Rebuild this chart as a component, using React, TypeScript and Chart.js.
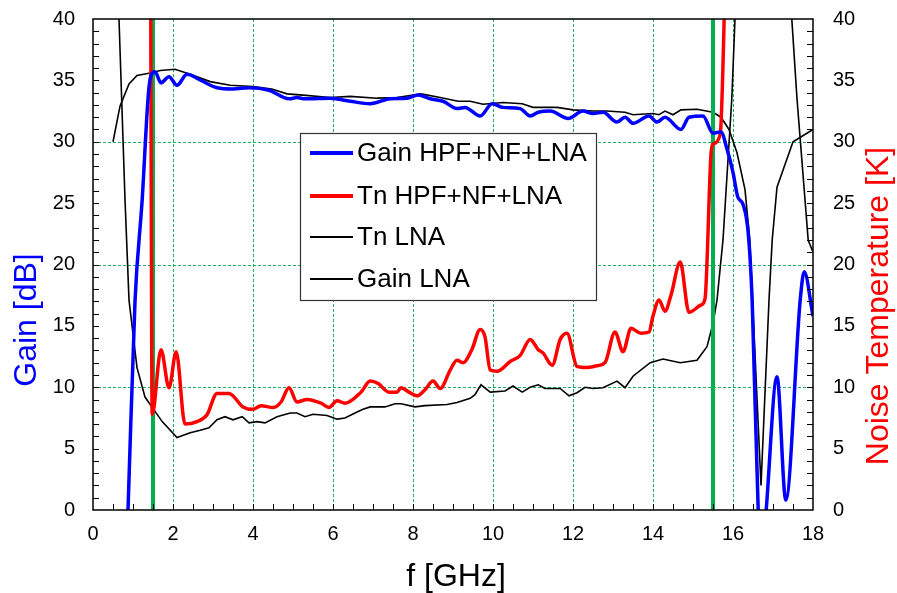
import React, { useEffect, useRef } from "react";
import { Chart, registerables } from "chart.js";

Chart.register(...registerables);

const FONT = "'Liberation Sans', Arial, sans-serif";

// Gain HPF+NF+LNA (left axis, dB)
const gainHpfF = [0.84, 0.875, 1.05, 1.23, 1.38, 1.45, 1.55, 1.7, 1.9, 2.1, 2.35, 2.7, 3.1, 3.5, 3.9, 4.4, 4.9, 5.1, 5.3, 5.93, 6.43, 6.93, 7.43, 7.85, 8.13, 8.43, 8.75, 9.1, 9.3, 9.68, 9.98, 10.25, 10.68, 10.93, 11.13, 11.43, 11.88, 12.25, 12.5, 12.75, 13.1, 13.3, 13.5, 13.9, 14.1, 14.3, 14.7, 14.9, 15.25, 15.5, 15.7, 15.85, 16.0, 16.12, 16.25, 16.38, 16.48, 16.63, 16.73, 16.83, 17.1, 17.32, 17.68, 17.78, 18.0];
const gainHpfV = [-3, 0, 17, 25.3, 33.7, 35.4, 35.7, 34.8, 35.3, 34.6, 35.5, 35.0, 34.4, 34.3, 34.4, 34.2, 33.5, 33.6, 33.5, 33.55, 33.3, 33.1, 33.5, 33.55, 33.8, 33.5, 33.3, 32.7, 32.8, 32.1, 33.1, 32.8, 32.7, 32.1, 32.4, 32.5, 31.9, 32.5, 32.3, 32.4, 31.6, 32.0, 31.5, 32.1, 31.6, 32.0, 31.0, 32.0, 32.1, 30.7, 30.8, 29.4, 27.5, 25.5, 24.9, 22.6, 17.0, 0, -4, 0, 10.85, 0.8, 17.1, 19.4, 15.8];

// Tn HPF+NF+LNA (right axis, K)
const tnHpfF = [1.44, 1.48, 1.7, 1.9, 2.08, 2.3, 2.6, 2.85, 3.1, 3.4, 3.75, 4.0, 4.2, 4.5, 4.7, 4.9, 5.1, 5.35, 5.7, 5.9, 6.1, 6.3, 6.7, 6.93, 7.13, 7.4, 7.6, 7.7, 7.9, 8.1, 8.3, 8.5, 8.68, 8.93, 9.1, 9.25, 9.47, 9.68, 9.8, 9.93, 10.1, 10.43, 10.68, 10.93, 11.13, 11.25, 11.48, 11.68, 11.85, 12.1, 12.35, 12.6, 12.8, 13.05, 13.25, 13.45, 13.7, 13.9, 14.0, 14.15, 14.3, 14.45, 14.68, 14.9, 15.2, 15.3, 15.45, 15.5, 15.68, 15.82];
const tnHpfV = [45, 7.8, 13.06, 9.96, 12.9, 7.0, 7.2, 7.76, 9.5, 9.5, 8.4, 8.2, 8.5, 8.35, 8.8, 9.96, 8.8, 9.0, 8.7, 8.35, 8.9, 8.7, 9.6, 10.5, 10.3, 9.6, 9.6, 9.96, 9.6, 9.3, 9.8, 10.5, 9.9, 11.4, 12.2, 12.0, 13.06, 14.7, 14.1, 11.4, 11.3, 12.1, 12.6, 13.9, 13.06, 12.8, 11.8, 13.9, 14.4, 11.7, 11.6, 11.75, 12.0, 14.5, 12.9, 14.8, 14.4, 14.5, 15.8, 17.1, 16.2, 17.5, 20.2, 16.1, 16.7, 17.2, 29.0, 29.8, 30.6, 45];

// Tn LNA (right axis, K)
const tnLnaF = [0.6, 0.65, 0.8, 0.9, 1.1, 1.3, 1.73, 2.1, 2.43, 2.68, 2.9, 3.1, 3.3, 3.5, 3.73, 3.9, 4.1, 4.3, 4.6, 4.93, 5.1, 5.3, 5.5, 5.85, 6.1, 6.3, 6.55, 6.75, 6.93, 7.3, 7.55, 7.7, 8.05, 8.3, 8.85, 9.1, 9.43, 9.55, 9.7, 9.93, 10.3, 10.5, 10.73, 10.93, 11.13, 11.3, 11.68, 11.9, 12.1, 12.3, 12.5, 12.75, 13.1, 13.3, 13.5, 13.93, 14.25, 14.68, 15.1, 15.35, 15.5, 15.6, 15.75, 15.97, 16.05, 16.1, 17.4, 17.47, 17.6, 17.88, 18.0];
const tnLnaV = [45, 40, 25.3, 17.1, 11.6, 9.2, 7.2, 5.9, 6.3, 6.5, 6.7, 7.35, 7.6, 7.35, 7.6, 7.1, 7.2, 7.1, 7.6, 7.9, 7.9, 7.6, 7.8, 7.7, 7.4, 7.5, 7.9, 8.2, 8.4, 8.4, 8.65, 8.65, 8.4, 8.5, 8.6, 8.75, 9.1, 9.4, 10.2, 9.6, 9.7, 10.1, 9.6, 10.0, 10.2, 9.9, 9.9, 9.3, 9.55, 10.0, 9.9, 9.96, 10.5, 9.96, 10.9, 12.0, 12.3, 12.0, 12.2, 13.3, 15.2, 17.1, 22.0, 33.5, 40, 45, 45, 40, 33.5, 22.0, 21.0];

// Gain LNA (left axis, dB)
const gainLnaF = [0.5, 0.675, 0.9, 1.1, 1.43, 1.68, 2.05, 2.43, 2.93, 3.43, 4.0, 4.47, 4.85, 5.25, 5.93, 6.43, 7.1, 7.6, 8.2, 8.68, 9.13, 9.43, 9.75, 10.25, 10.73, 11.0, 11.6, 12.0, 12.5, 12.85, 13.3, 13.5, 14.0, 14.15, 14.3, 14.5, 14.7, 15.1, 15.5, 15.7, 15.9, 16.1, 16.3, 16.42, 16.7, 16.9, 16.98, 17.1, 17.5, 18.0];
const gainLnaV = [30.0, 32.9, 34.7, 35.4, 35.6, 35.8, 35.9, 35.5, 34.9, 34.6, 34.5, 34.3, 33.9, 33.8, 33.6, 33.7, 33.55, 33.6, 33.9, 33.6, 33.3, 33.3, 33.06, 33.2, 33.1, 32.8, 32.8, 32.6, 32.5, 32.5, 32.4, 32.2, 32.3, 32.2, 32.5, 32.2, 32.6, 32.65, 32.4, 32.0, 31.0, 29.1, 26.1, 22.0, 2.0, 17.1, 22.0, 26.3, 30.0, 31.0];

// band edge markers (GHz)
const bandEdges = [1.5, 15.5];

// grid positions
const xGrid = [2, 4, 6, 8, 10, 12, 14, 16];
const yGrid = [10, 20, 30];

const seriesLabels = ["Gain HPF+NF+LNA", "Tn HPF+NF+LNA", "Tn LNA", "Gain LNA"];
const xTitle = "f [GHz]";
const yLeftTitle = "Gain [dB]";
const yRightTitle = "Noise Temperature [K]";

const pts = (xs: number[], ys: number[]) => xs.map((x, i) => ({ x, y: ys[i] }));

const GRID = "rgb(30,175,95)";

const decor = {
  id: "decor",
  beforeDatasetsDraw(chart: any) {
    const { ctx, chartArea: a, scales } = chart;
    ctx.save();
    ctx.strokeStyle = GRID;
    ctx.lineWidth = 1;
    ctx.setLineDash([3, 2]);
    ctx.beginPath();
    xGrid.forEach((v) => {
      const px = Math.round(scales.x.getPixelForValue(v)) + 0.5;
      ctx.moveTo(px, a.top);
      ctx.lineTo(px, a.bottom);
    });
    yGrid.forEach((v) => {
      const py = Math.round(scales.y.getPixelForValue(v)) + 0.5;
      ctx.moveTo(a.left, py);
      ctx.lineTo(a.right, py);
    });
    ctx.stroke();
    ctx.restore();
  },
  afterDatasetsDraw(chart: any) {
    const { ctx, chartArea: a, scales } = chart;
    const xs = scales.x;
    const yl = scales.y;
    ctx.save();
    ctx.strokeStyle = "#000";
    ctx.lineWidth = 1;
    ctx.beginPath();
    for (let v = 0.5; v < 18; v += 0.5) {
      const px = Math.round(xs.getPixelForValue(v)) + 0.5;
      ctx.moveTo(px, a.bottom);
      ctx.lineTo(px, a.bottom - 6);
    }
    for (let v = 1; v < 40; v++) {
      const py = Math.round(yl.getPixelForValue(v)) + 0.5;
      ctx.moveTo(a.left, py);
      ctx.lineTo(a.left + 6, py);
      ctx.moveTo(a.right, py);
      ctx.lineTo(a.right - 6, py);
    }
    ctx.stroke();
    ctx.lineWidth = 1.5;
    ctx.strokeRect(a.left, a.top, a.right - a.left, a.bottom - a.top);

    // legend box
    const bx = 300, by = 133, bw = 296, bh = 167;
    ctx.fillStyle = "#fff";
    ctx.fillRect(bx, by, bw, bh);
    ctx.strokeStyle = "#333";
    ctx.lineWidth = 1.2;
    ctx.strokeRect(bx + 0.5, by + 0.5, bw, bh);
    const rows = [153, 196, 237, 279];
    ctx.font = `26px ${FONT}`;
    ctx.textBaseline = "middle";
    ctx.textAlign = "left";
    seriesLabels.forEach((lab, i) => {
      const ds = chart.data.datasets[i];
      ctx.strokeStyle = ds.borderColor;
      ctx.lineWidth = ds.legendWidth;
      ctx.beginPath();
      ctx.moveTo(310, rows[i]);
      ctx.lineTo(353, rows[i]);
      ctx.stroke();
      ctx.fillStyle = "#000";
      ctx.fillText(lab, 357, rows[i] + 1);
    });
    ctx.restore();
  },
  afterDraw(chart: any) {
    const { ctx } = chart;
    ctx.save();
    ctx.font = `32px ${FONT}`;
    ctx.textAlign = "center";
    ctx.textBaseline = "middle";
    ctx.fillStyle = "#0000ff";
    ctx.save();
    ctx.translate(27, 320);
    ctx.rotate(-Math.PI / 2);
    ctx.fillText(yLeftTitle, 0, 0);
    ctx.restore();
    ctx.fillStyle = "#ff0000";
    ctx.save();
    ctx.translate(879, 306);
    ctx.rotate(-Math.PI / 2);
    ctx.fillText(yRightTitle, 0, 0);
    ctx.restore();
    ctx.fillStyle = "#000";
    ctx.fillText(xTitle, 456, 577);
    ctx.restore();
  },
};

export default function App() {
  const ref = useRef<HTMLCanvasElement>(null);
  useEffect(() => {
    if (!ref.current) return;
    const tickFont = { family: FONT, size: 20 };
    const chart = new Chart(ref.current, {
      type: "line",
      data: {
        datasets: [
          {
            label: seriesLabels[0],
            data: pts(gainHpfF, gainHpfV),
            yAxisID: "y",
            borderColor: "#0000ff",
            borderWidth: 3.5,
            legendWidth: 4,
            pointRadius: 0,
            cubicInterpolationMode: "monotone",
            order: 0,
          } as any,
          {
            label: seriesLabels[1],
            data: pts(tnHpfF, tnHpfV),
            yAxisID: "y2",
            borderColor: "#ff0000",
            borderWidth: 3.5,
            legendWidth: 4,
            pointRadius: 0,
            cubicInterpolationMode: "monotone",
            order: 1,
          } as any,
          {
            label: seriesLabels[2],
            data: pts(tnLnaF, tnLnaV),
            yAxisID: "y2",
            borderColor: "#000000",
            borderWidth: 1.6,
            legendWidth: 2,
            pointRadius: 0,
            tension: 0,
            order: 3,
          } as any,
          {
            label: seriesLabels[3],
            data: pts(gainLnaF, gainLnaV),
            yAxisID: "y",
            borderColor: "#000000",
            borderWidth: 1.6,
            legendWidth: 2,
            pointRadius: 0,
            tension: 0,
            order: 4,
          } as any,
          ...bandEdges.map((m) => ({
            label: "edge",
            data: [
              { x: m, y: 0 },
              { x: m, y: 40 },
            ],
            yAxisID: "y",
            borderColor: "#00b050",
            borderWidth: 4,
            pointRadius: 0,
            order: 2,
          })),
        ],
      },
      options: {
        animation: false,
        responsive: false,
        devicePixelRatio: 1,
        layout: { padding: { top: 19, left: 0, right: 0, bottom: 0 } },
        plugins: { legend: { display: false }, tooltip: { enabled: false } },
        scales: {
          x: {
            type: "linear",
            min: 0,
            max: 18,
            ticks: { stepSize: 2, font: tickFont, color: "#000", padding: 12, maxRotation: 0 },
            grid: { display: false, drawTicks: false },
            border: { display: false },
            afterFit: (s: any) => {
              s.height = 83;
              s.paddingLeft = 0;
              s.paddingRight = 0;
            },
          },
          y: {
            type: "linear",
            position: "left",
            min: 0,
            max: 40,
            ticks: { stepSize: 5, font: tickFont, color: "#000", padding: 18 },
            grid: { display: false, drawTicks: false },
            border: { display: false },
            afterFit: (s: any) => {
              s.width = 93;
              s.paddingTop = 0;
              s.paddingBottom = 0;
            },
          },
          y2: {
            type: "linear",
            position: "right",
            min: 0,
            max: 40,
            ticks: { stepSize: 5, font: tickFont, color: "#000", padding: 20 },
            grid: { display: false, drawTicks: false },
            border: { display: false },
            afterFit: (s: any) => {
              s.width = 84;
              s.paddingTop = 0;
              s.paddingBottom = 0;
            },
          },
        },
      } as any,
      plugins: [decor],
    });
    return () => chart.destroy();
  }, []);
  return (
    <div style={{ position: "absolute", left: 0, top: 0, width: 897, height: 593, background: "#fff" }}>
      <canvas ref={ref} width={897} height={593} style={{ width: 897, height: 593 }} />
    </div>
  );
}
